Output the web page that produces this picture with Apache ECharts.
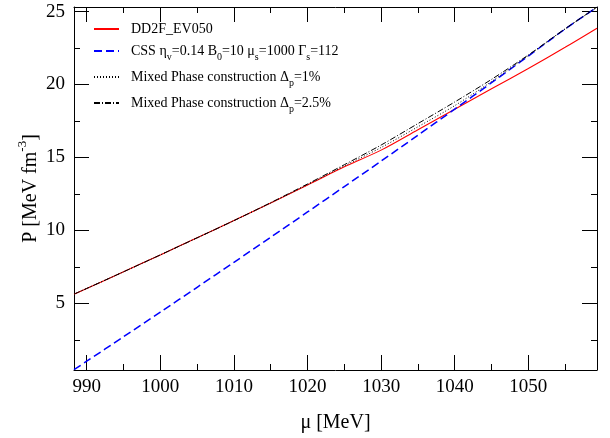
<!DOCTYPE html>
<html><head><meta charset="utf-8">
<script src="https://cdn.jsdelivr.net/npm/echarts@6/dist/echarts.min.js"></script>
<style>html,body{margin:0;padding:0;background:#fff}#c{width:610px;height:438px}</style>
</head><body><div id="c"></div>
<script>
// ---- data ----
const mu    = [988.27, 990, 995, 1000, 1005, 1010, 1015, 1020, 1025, 1030, 1035, 1040, 1045, 1050, 1055, 1059.33];
const dd2f  = [5.63, 6.02, 7.16, 8.32, 9.49, 10.67, 11.88, 13.11, 14.36, 15.50, 16.90, 18.30, 19.70, 21.10, 22.55, 23.86];
const css   = [0.45, 1.03, 2.71, 4.40, 6.10, 7.81, 9.53, 11.26, 13.00, 14.75, 16.52, 18.31, 20.12, 21.95, 23.80, 25.30];
const mix1  = [5.63, 6.02, 7.16, 8.32, 9.49, 10.67, 11.88, 13.13, 14.42, 15.68, 17.10, 18.55, 20.20, 21.98, 23.80, 25.30];
const mix25 = [5.63, 6.02, 7.16, 8.32, 9.49, 10.67, 11.90, 13.18, 14.50, 15.85, 17.32, 18.80, 20.35, 22.02, 23.82, 25.30];
const xLabels = [990, 1000, 1010, 1020, 1030, 1040, 1050];
const yLabels = [5, 10, 15, 20, 25];
const seriesNames = ['DD2F_EV050', 'CSS', 'MP1', 'MP25'];
const legendText = {
  'DD2F_EV050': '{t|DD2F_EV050}',
  'CSS': '{t|CSS η}{b|v}{t|=0.14 B}{b|0}{t|=10 μ}{b|s}{t|=1000 Γ}{b|s}{t|=112}',
  'MP1': '{t|Mixed Phase construction Δ}{b|p}{t|=1%}',
  'MP25': '{t|Mixed Phase construction Δ}{b|p}{t|=2.5%}'
};

const FONT = '"Liberation Serif","Times New Roman",serif';
const XMIN = 988.27, XMAX = 1059.33, YMIN = 0.43, YMAX = 25.31;
const pair = arr => mu.map((m, i) => [m, arr[i]]);

// kind: 'x' | 'y'; scale: multiplier for decorative minor-tick axes
function axis(kind, pos, splitNumber, len, labels, line, scale, extra) {
  const lo = (kind === 'x' ? XMIN : YMIN) * scale, hi = (kind === 'x' ? XMAX : YMAX) * scale;
  return Object.assign({
    type: 'value', position: pos, min: lo, max: hi, splitNumber: splitNumber,
    splitLine: { show: false },
    axisLine: { show: line, onZero: false, lineStyle: { color: '#000', width: 1 } },
    axisTick: { show: true, inside: true, length: len, lineStyle: { color: '#000', width: 1 } },
    axisLabel: labels ? { show: true, customValues: labels, formatter: v => String(v),
      color: '#000', fontFamily: FONT, fontSize: 19, margin: kind === 'x' ? 8 : 9 } : { show: false }
  }, extra || {});
}

const chart = echarts.init(document.getElementById('c'), null, { renderer: 'canvas' });
chart.setOption({
  animation: false,
  backgroundColor: '#fff',
  grid: { left: 74, right: 13, top: 7, bottom: 66 },
  xAxis: [
    axis('x', 'bottom', 7, 15, xLabels, true, 1, {
      name: 'μ [MeV]', nameLocation: 'middle', nameGap: 43, nameMoveOverlap: false,
      nameTextStyle: { fontFamily: FONT, fontSize: 20, color: '#000' }
    }),
    axis('x', 'bottom', 14, 6, null, false, 1),
    axis('x', 'top', 7, 15, null, true, 1),
    axis('x', 'top', 14, 6, null, false, 1)
  ],
  yAxis: [
    axis('y', 'left', 5, 15, yLabels, true, 1, {
      name: '{a|P [MeV fm}{s|-3}{a|]}', nameLocation: 'middle', nameGap: 28, nameRotate: 90,
      nameMoveOverlap: false,
      nameTextStyle: { fontFamily: FONT, fontSize: 20, color: '#000',
        rich: { a: { fontFamily: FONT, fontSize: 20, lineHeight: 30, color: '#000' },
                s: { fontFamily: FONT, fontSize: 13, lineHeight: 13, verticalAlign: 'top', color: '#000' } } }
    }),
    axis('y', 'left', 10, 6, null, false, 2),
    axis('y', 'right', 5, 15, null, true, 1),
    axis('y', 'right', 10, 6, null, false, 2)
  ],
  legend: {
    orient: 'vertical', left: 93, top: 22, padding: 0, itemGap: 8,
    itemWidth: 25, itemHeight: 14, data: seriesNames,
    itemStyle: { opacity: 0 },
    formatter: name => legendText[name],
    textStyle: {
      fontFamily: FONT, fontSize: 14, color: '#000', padding: [0, 0, 0, 7],
      rich: {
        t: { fontFamily: FONT, fontSize: 14, lineHeight: 22, color: '#000' },
        b: { fontFamily: FONT, fontSize: 10, lineHeight: 10, verticalAlign: 'bottom', color: '#000' }
      }
    }
  },
  series: [
    { name: 'DD2F_EV050', type: 'line', data: pair(dd2f), smooth: 0.3, symbol: 'none',
      lineStyle: { color: '#ff0000', width: 1.1 }, itemStyle: { color: '#ff0000' }, z: 2 },
    { name: 'CSS', type: 'line', data: pair(css), smooth: 0.3, symbol: 'none',
      lineStyle: { color: '#0000ff', width: 1.5, type: [8, 4] }, itemStyle: { color: '#0000ff' }, z: 3 },
    { name: 'MP1', type: 'line', data: pair(mix1), smooth: 0.3, symbol: 'none',
      lineStyle: { color: '#000', width: 1, type: [1, 2] }, itemStyle: { color: '#000' }, z: 4 },
    { name: 'MP25', type: 'line', data: pair(mix25), smooth: 0.3, symbol: 'none',
      lineStyle: { color: '#000', width: 1, type: [6, 2, 1, 2] }, itemStyle: { color: '#000' }, z: 5 }
  ]
});
</script></body></html>
